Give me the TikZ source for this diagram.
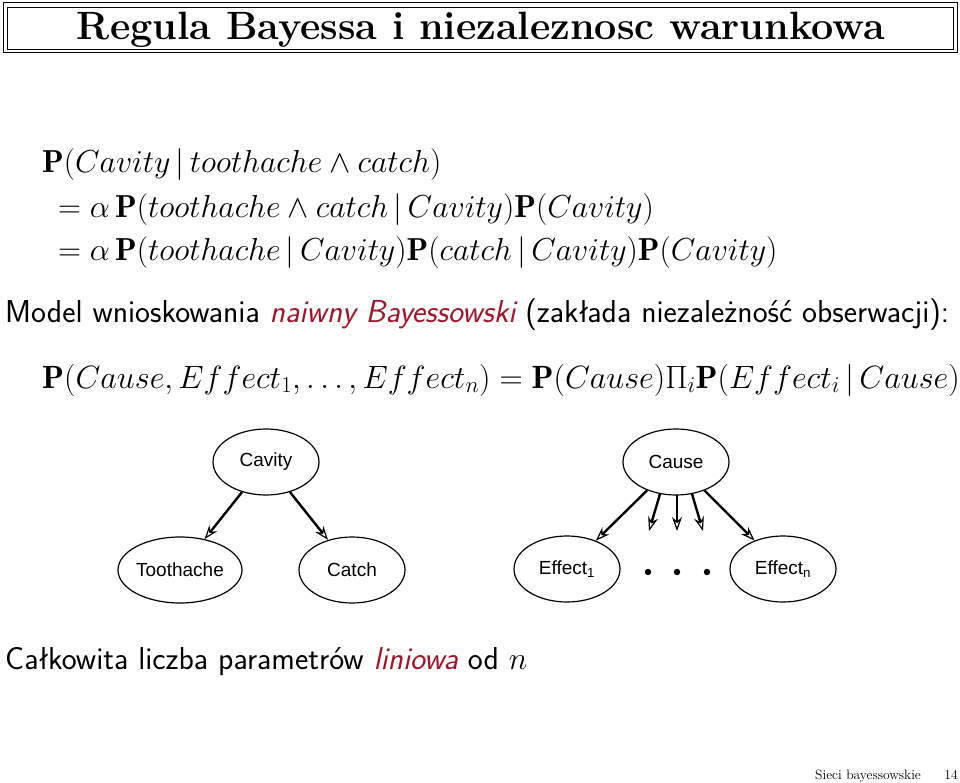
\RequirePackage{fix-cm}
\documentclass[tikz,border=0pt]{standalone}
\usepackage{fontspec}
\newfontfamily\hv{Liberation Sans}
\usetikzlibrary{arrows.meta,shapes.geometric}
\definecolor{emred}{HTML}{A0162A}
\begin{document}
\begin{tikzpicture}[x=1pt,y=-1pt,
  bn/.style={draw,ellipse,line width=1.2pt,minimum width=106pt,minimum height=66pt,inner sep=0pt,font=\hv\fontsize{19}{22}\selectfont},
  edge/.style={line width=2.4pt,-{Stealth[length=14pt,width=10pt,open,line width=1.2pt]}},
  txt/.style={anchor=base west,inner sep=0pt,font=\sffamily\fontsize{31.7}{36}\selectfont},
  mth/.style={anchor=base west,inner sep=0pt,font=\fontsize{31.8}{36}\selectfont}]
\useasboundingbox (0,0) rectangle (960,783);
\draw[line width=1pt] (3,3) rectangle (957,53);
\draw[line width=0.6pt] (7,7) rectangle (953,49);
\node[inner sep=0pt,anchor=base,font=\bfseries\fontsize{39.5}{44}\selectfont] (title) at (481,40) {Regula Bayessa i niezaleznosc warunkowa};
\node[mth] (l1) at (42,173) {$\mathbf{P}(Cavity\,|\,toothache \wedge catch)$};
\node[mth] (l2) at (58,218) {$=\alpha\,\mathbf{P}(toothache \wedge catch\,|\,Cavity)\mathbf{P}(Cavity)$};
\node[mth] (l3) at (58,261) {$=\alpha\,\mathbf{P}(toothache\,|\,Cavity)\mathbf{P}(catch\,|\,Cavity)\mathbf{P}(Cavity)$};
\node[txt] (model) at (5,323) {Model wnioskowania \textcolor{emred}{\itshape naiwny Bayessowski} (zakłada niezależność obserwacji):};
\node[mth,font=\fontsize{32.2}{36}\selectfont] (nb) at (42,388) {$\mathbf{P}(Cause,Effect_1,\ldots,Effect_n)=\mathbf{P}(Cause)\Pi_i\mathbf{P}(Effect_i\,|\,Cause)$};
\node[bn] (cav) at (266,462) {Cavity};
\node[bn,minimum width=114pt] (tooth) at (180,570) {Toothache};
\node[bn] (catch) at (352,570) {Catch};
\node[bn] (cause) at (676,462) {Cause};
\node[bn] (e1) at (567,569) {Effect\textsubscript{1}};
\node[bn] (en) at (783,569) {Effect\textsubscript{n}};
\foreach \x/\n in {648/d1,677/d2,707/d3} \fill (\x,572) circle (3.2pt) coordinate (\n);
\draw[edge] (cav) -- (tooth);
\draw[edge] (cav) -- (catch);
\draw[edge] (cause) -- (e1);
\draw[edge] (cause) -- (en);
\coordinate (s1) at (660,494); \coordinate (t1) at (649,531);
\coordinate (s2) at (677,495); \coordinate (t2) at (677,531);
\coordinate (s3) at (692,494); \coordinate (t3) at (703,531);
\draw[edge] (s1) -- (t1);
\draw[edge] (s2) -- (t2);
\draw[edge] (s3) -- (t3);
\node[txt] (tot) at (5,669) {Całkowita liczba parametrów \textcolor{emred}{\itshape liniowa} od $n$};
\node[anchor=base west,inner sep=0pt,font=\fontsize{13.6}{16}\selectfont] (foot) at (815,779) {Sieci bayessowskie};
\node[anchor=base east,inner sep=0pt,font=\fontsize{13.6}{16}\selectfont] (pg) at (958,779) {14};
\end{tikzpicture}
\end{document}
